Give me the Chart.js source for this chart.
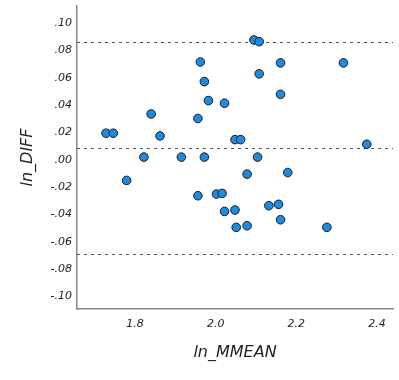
<!DOCTYPE html>
<html><head><meta charset="utf-8">
<script src="https://cdn.jsdelivr.net/npm/chart.js@4"></script>
<style>html,body{margin:0;padding:0;background:#fff}#w{width:399px;height:380px}</style>
</head><body><div id="w"><canvas id="c" width="399" height="380"></canvas></div>
<script>
const xValues = [1.728,1.746,1.840,1.862,1.822,1.779,1.915,1.956,1.962,1.972,1.982,1.972,1.956,2.022,2.002,2.016,2.022,2.048,2.062,2.048,2.051,2.078,2.078,2.095,2.108,2.108,2.104,2.179,2.132,2.156,2.161,2.161,2.161,2.317,2.276,2.375];
const yValues = [0.0195,0.0195,0.0336,0.0175,0.0020,-0.0151,0.0020,0.0303,0.0717,0.0573,0.0434,0.0020,-0.0263,0.0415,-0.0251,-0.0246,-0.0378,0.0148,0.0148,-0.0368,-0.0495,-0.0105,-0.0483,0.0878,0.0866,0.0630,0.0020,-0.0093,-0.0336,-0.0326,-0.0439,0.0710,0.0480,0.0710,-0.0495,0.0114];
const refLines = [0.0863, 0.0088, -0.0687];
const yTicks = [0.10,0.08,0.06,0.04,0.02,0.00,-0.02,-0.04,-0.06,-0.08,-0.10];
const xTicks = [1.8,2.0,2.2,2.4];
const xRange = [1.656, 2.440];
const yRange = [-0.1093, 0.1127];

function fmtY(v){ const s=Math.abs(v).toFixed(2).replace(/^0/,''); return (v< -1e-9?'-':'')+s; }

const refPlugin = {
  id:'ref',
  beforeDatasetsDraw(chart){
    const {ctx, chartArea:a, scales:{y}} = chart;
    ctx.save();
    ctx.strokeStyle='#555'; ctx.lineWidth=1; ctx.setLineDash([3,4]);
    refLines.forEach(v=>{ const py=Math.round(y.getPixelForValue(v))+0.5; ctx.beginPath(); ctx.moveTo(a.left,py); ctx.lineTo(a.right,py); ctx.stroke(); });
    ctx.restore();
  }
};

new Chart(document.getElementById('c'), {
  type:'scatter',
  data:{datasets:[{data:xValues.map((x,i)=>({x, y:yValues[i]})), backgroundColor:'#1e8be0', borderColor:'#1a1a1a', borderWidth:1, pointRadius:4.3, pointHoverRadius:4.3}]},
  options:{
    responsive:false, animation:false, devicePixelRatio:1,
    layout:{padding:{left:0,right:6,top:6,bottom:0}},
    plugins:{legend:{display:false}, tooltip:{enabled:false}},
    scales:{
      x:{type:'linear', min:xRange[0], max:xRange[1],
        afterBuildTicks(s){ s.ticks = xTicks.map(v=>({value:v})); },
        afterFit(s){ s.height = 71; s.paddingLeft = 0; s.paddingRight = 0; },
        grid:{display:false, drawTicks:false},
        border:{display:true, color:'#888', width:1.5},
        ticks:{padding:9, color:'#222', font:{family:'DejaVu Sans', size:11, style:'italic'}, callback:v=>Number(v).toFixed(1), maxRotation:0, autoSkip:false},
        title:{display:true, text:'ln_MMEAN', color:'#222', font:{family:'DejaVu Sans', size:16, style:'italic'}, padding:{top:4, bottom:18}}
      },
      y:{type:'linear', min:yRange[0], max:yRange[1],
        afterBuildTicks(s){ s.ticks = yTicks.map(v=>({value:v})); },
        afterFit(s){ s.width = 77; s.paddingTop = 0; s.paddingBottom = 0; },
        grid:{display:false, drawTicks:false},
        border:{display:true, color:'#888', width:1.5},
        ticks:{padding:5, color:'#222', font:{family:'DejaVu Sans', size:11, style:'italic'}, callback:v=>fmtY(v), autoSkip:false},
        title:{display:true, text:'ln_DIFF', color:'#222', font:{family:'DejaVu Sans', size:16, style:'italic'}, padding:{top:18, bottom:0}}
      }
    }
  },
  plugins:[refPlugin]
});
</script></body></html>
